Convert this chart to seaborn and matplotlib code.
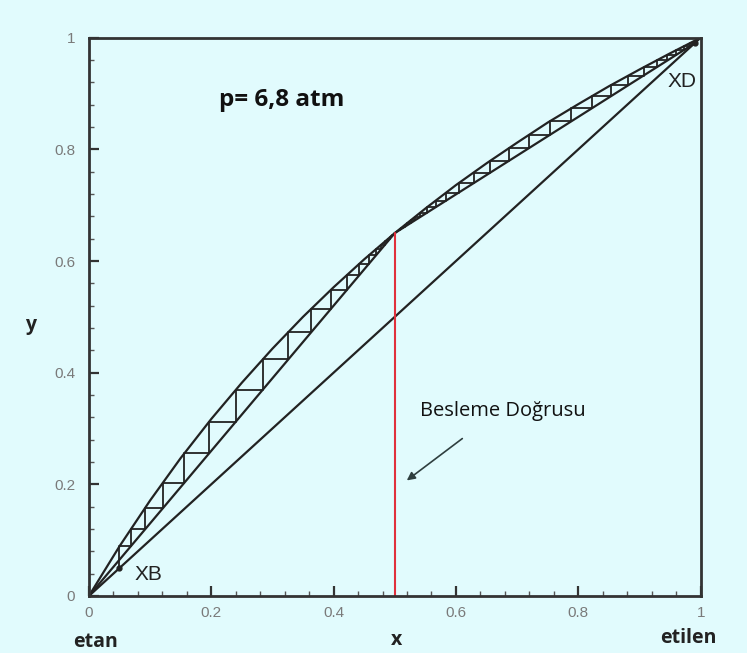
import numpy as np
import pandas as pd
import matplotlib
matplotlib.use("Agg")
import matplotlib.pyplot as plt
import seaborn as sns
from matplotlib.ticker import MultipleLocator

# Equilibrium data for ethane / ethylene at 6.8 atm (mole fraction ethylene)
x_eq = [0.0, 0.05, 0.10, 0.15, 0.20, 0.25, 0.30, 0.35, 0.40, 0.45, 0.50,
        0.55, 0.60, 0.65, 0.70, 0.75, 0.80, 0.85, 0.90, 0.95, 1.0]
y_eq = [0.0, 0.089, 0.171, 0.247, 0.317, 0.382, 0.443, 0.500, 0.553, 0.603, 0.650,
        0.694, 0.736, 0.775, 0.812, 0.848, 0.881, 0.913, 0.943, 0.972, 1.0]

# Compositions
x_b = 0.05      # bottoms
x_d = 0.99      # distillate
x_f = 0.50      # feed (saturated liquid -> vertical q-line)
y_pinch = 0.65  # intersection of the operating lines on the q-line

tick_vals = [0.0, 0.2, 0.4, 0.6, 0.8, 1.0]
tick_text = ["0", "0.2", "0.4", "0.6", "0.8", "1"]

BG = "#e1fbfd"
INK = "#222222"

sns.set_theme(style="white")
plt.rcParams["font.family"] = ["DejaVu Sans"]

fig = plt.figure(figsize=(7.47, 6.53), dpi=100, facecolor=BG)
ax = fig.add_axes([0.119, 0.0873, 0.819, 0.855])
ax.set_facecolor(BG)

eq = pd.DataFrame({"x": x_eq, "y": y_eq})
diag = pd.DataFrame({"x": [0.0, 1.0], "y": [0.0, 1.0]})
strip = pd.DataFrame({"x": [0.0, x_f], "y": [0.0, y_pinch]})
rect = pd.DataFrame({"x": [x_f, x_d], "y": [y_pinch, x_d]})

line_kw = dict(color=INK, linewidth=1.6, sort=False, estimator=None)
sns.lineplot(data=eq, x="x", y="y", ax=ax, **line_kw)
sns.lineplot(data=diag, x="x", y="y", ax=ax, **line_kw)
sns.lineplot(data=strip, x="x", y="y", ax=ax, **line_kw)
sns.lineplot(data=rect, x="x", y="y", ax=ax, **line_kw)


def eq_y(x):
    return np.interp(x, x_eq, y_eq)


def eq_x(y):
    return np.interp(y, y_eq, x_eq)


s_slope = y_pinch / x_f
r_slope = (x_d - y_pinch) / (x_d - x_f)

# Stripping-section stages, stepped up from the bottoms composition
px, py = [x_b], [x_b]
x = x_b
for _ in range(200):
    y = eq_y(x)
    px.append(x); py.append(y)
    x_new = y / s_slope
    px.append(x_new); py.append(y)
    if x_new - x < 0.0015 or x_new >= x_f:
        break
    x = x_new
sns.lineplot(x=px, y=py, ax=ax, color=INK, linewidth=1.3, sort=False, estimator=None)

# Rectifying-section stages, stepped down from the distillate composition
px, py = [x_d], [x_d]
y = x_d
for _ in range(200):
    x = eq_x(y)
    px.append(x); py.append(y)
    y_new = x_d + r_slope * (x - x_d)
    px.append(x); py.append(y_new)
    if y - y_new < 0.0015 or x <= x_f:
        break
    y = y_new
sns.lineplot(x=px, y=py, ax=ax, color=INK, linewidth=1.3, sort=False, estimator=None)

# Feed line
ax.plot([x_f, x_f], [0.0, y_pinch], color="#e0303c", linewidth=1.5)

# End compositions
ax.plot([x_b, x_d], [x_b, x_d], "o", color=INK, markersize=3.5)

ax.set_xlim(0, 1)
ax.set_ylim(0, 1)
ax.set_xticks(tick_vals)
ax.set_yticks(tick_vals)
ax.set_xticklabels(tick_text)
ax.set_yticklabels(tick_text)
ax.xaxis.set_minor_locator(MultipleLocator(0.04))
ax.yaxis.set_minor_locator(MultipleLocator(0.04))
ax.tick_params(which="major", direction="in", length=7, width=1.6, color="#333333",
               labelsize=11, labelcolor="#7a7a7a", bottom=True, left=True, top=False, right=False)
ax.tick_params(axis="x", which="major", pad=7)
ax.tick_params(axis="y", which="major", pad=10)
ax.tick_params(which="minor", direction="in", length=3.5, width=1.0, color="#555555",
               bottom=True, left=True, top=False, right=False)
for lab in ax.get_xticklabels() + ax.get_yticklabels():
    lab.set_family("Liberation Sans")
for sp in ax.spines.values():
    sp.set_color("#333333")
    sp.set_linewidth(2.0)

ax.set_xlabel("")
ax.set_ylabel("")
ax.text(-0.096, 0.486, "y", transform=ax.transAxes, ha="center", va="center",
        fontsize=14, fontweight="bold", color=INK, family="Open Sans")
ax.text(0.503, -0.079, "x", transform=ax.transAxes, ha="center", va="center",
        fontsize=14, fontweight="bold", color=INK, family="Open Sans")
ax.text(0.011, -0.082, "etan", transform=ax.transAxes, ha="center", va="center",
        fontsize=14, fontweight="bold", color=INK, family="Open Sans")
ax.text(0.979, -0.075, "etilen", transform=ax.transAxes, ha="center", va="center",
        fontsize=14, fontweight="bold", color=INK, family="Open Sans")

ax.text(0.212, 0.889, "p= 6,8 atm", ha="left", va="center", fontsize=17.5,
        fontweight="bold", color="#111111", family="Open Sans")
ax.text(0.542, 0.331, "Besleme Doğrusu", ha="left", va="center", fontsize=14.5,
        color="#111111", family="Open Sans")
ax.text(0.074, 0.038, "XB", ha="left", va="center", fontsize=15, color=INK,
        family="Liberation Sans")
ax.text(0.946, 0.921, "XD", ha="left", va="center", fontsize=15, color=INK,
        family="Liberation Sans")

ax.annotate("", xy=(0.516, 0.204), xytext=(0.614, 0.285),
            arrowprops=dict(arrowstyle="-|>", color="#2f3f3f", lw=1.2,
                            mutation_scale=12))

fig.savefig("out.png", dpi=100, facecolor=BG)
